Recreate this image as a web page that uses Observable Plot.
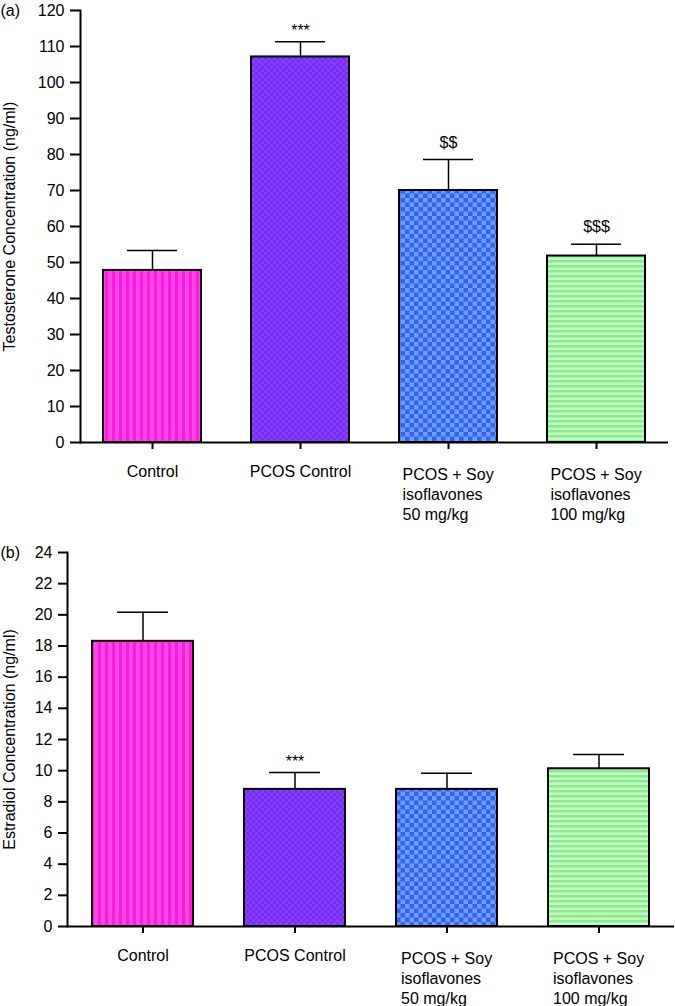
<!DOCTYPE html>
<html>
<head>
<meta charset="utf-8">
<script src="https://cdn.jsdelivr.net/npm/d3@7"></script>
<script src="https://cdn.jsdelivr.net/npm/@observablehq/plot@0.6"></script>
<style>
html, body { margin: 0; padding: 0; background: #fff; }
#chart { width: 675px; }
#chart svg { display: block; }
</style>
</head>
<body>
<div id="chart"></div>
<script>
// ---- data ----
const categories = [
  "Control",
  "PCOS Control",
  "PCOS + Soy\nisoflavones\n50 mg/kg",
  "PCOS + Soy\nisoflavones\n100 mg/kg"
];
const testosterone = [47.8, 107.1, 70.0, 51.8];
const testosteroneSem = [5.5, 4.2, 8.6, 3.3];
const testosteroneMarks = ["", "***", "$$", "$$$"];
const testosteroneTicks = [0, 10, 20, 30, 40, 50, 60, 70, 80, 90, 100, 110, 120];

const estradiol = [18.3, 8.8, 8.8, 10.12];
const estradiolSem = [1.87, 1.08, 1.03, 0.92];
const estradiolMarks = ["", "***", "", ""];
const estradiolTicks = [0, 2, 4, 6, 8, 10, 12, 14, 16, 18, 20, 22, 24];

const panelTags = ["(a)", "(b)"];
const yLabels = ["Testosterone Concentration (ng/ml)", "Estradiol Concentration (ng/ml)"];

// ---- patterns (styles) ----
function addPatterns(svg, prefix) {
  const defs = d3.select(svg).insert("defs", ":first-child");
  // Control: vertical magenta stripes
  let p = defs.append("pattern").attr("id", prefix + "0").attr("patternUnits", "userSpaceOnUse")
    .attr("width", 7).attr("height", 10);
  p.append("rect").attr("width", 7).attr("height", 10).attr("fill", "#ff45ea");
  p.append("rect").attr("width", 3).attr("height", 10).attr("fill", "#fb1bd9");
  // PCOS control: fine purple checker
  p = defs.append("pattern").attr("id", prefix + "1").attr("patternUnits", "userSpaceOnUse")
    .attr("width", 6).attr("height", 6);
  p.append("rect").attr("width", 6).attr("height", 6).attr("fill", "#7a2cf6");
  p.append("rect").attr("width", 3).attr("height", 3).attr("fill", "#8540fd");
  p.append("rect").attr("x", 3).attr("y", 3).attr("width", 3).attr("height", 3).attr("fill", "#8540fd");
  // Soy 50: blue checker
  p = defs.append("pattern").attr("id", prefix + "2").attr("patternUnits", "userSpaceOnUse")
    .attr("width", 9).attr("height", 9);
  p.append("rect").attr("width", 9).attr("height", 9).attr("fill", "#3b5bf1");
  p.append("rect").attr("width", 4.5).attr("height", 4.5).attr("fill", "#62a2f9");
  p.append("rect").attr("x", 4.5).attr("y", 4.5).attr("width", 4.5).attr("height", 4.5).attr("fill", "#62a2f9");
  // Soy 100: horizontal green stripes
  p = defs.append("pattern").attr("id", prefix + "3").attr("patternUnits", "userSpaceOnUse")
    .attr("width", 10).attr("height", 5);
  p.append("rect").attr("width", 10).attr("height", 5).attr("fill", "#c6fcc6");
  p.append("rect").attr("width", 10).attr("height", 2.5).attr("fill", "#86ee88");
}

function panel(o) {
  const rows = categories.map((c, i) => ({
    category: c, value: o.values[i], sem: o.sem[i], mark: o.marks[i]
  }));
  const top = d => d.value + d.sem;
  const svg = Plot.plot({
    width: 675,
    height: o.height,
    marginTop: o.mt,
    marginBottom: o.mb,
    marginLeft: o.ml,
    marginRight: o.mr,
    style: { fontFamily: "'Liberation Sans', Arial, sans-serif", fontSize: "16px", color: "#000", background: "#fff", overflow: "visible" },
    x: { domain: categories, paddingInner: o.pInner, paddingOuter: o.pOuter, label: null },
    y: { domain: [0, o.yTicks[o.yTicks.length - 1]], label: null },
    color: { domain: categories, range: categories.map((c, i) => `url(#${o.prefix}${i})`) },
    marks: [
      Plot.ruleX(rows, { x: "category", y1: "value", y2: top, stroke: "#000", strokeWidth: 1.5 }),
      Plot.tickY(rows, { x: "category", y: top, insetLeft: o.capInset, insetRight: o.capInset, stroke: "#000", strokeWidth: 1.5 }),
      Plot.barY(rows, { x: "category", y: "value", fill: "category", stroke: "#000", strokeWidth: 2 }),
      Plot.text(rows.filter(d => d.mark.startsWith("*")), {
        x: "category", y: top, text: "mark", dy: -11, lineAnchor: "middle", fontSize: 16, fill: "#000"
      }),
      Plot.text(rows.filter(d => d.mark.startsWith("$")), {
        x: "category", y: top, text: "mark", dy: -17, lineAnchor: "middle", fontSize: 16, fill: "#000"
      }),
      Plot.ruleY([0], { stroke: "#000", strokeWidth: 2 }),
      Plot.frame({ anchor: "left", stroke: "#000", strokeWidth: 2 }),
      Plot.axisY({
        ticks: o.yTicks, tickSize: o.yTickSize, tickPadding: 6, strokeWidth: 2,
        label: o.yLabel, labelAnchor: "center", labelArrow: "none", labelOffset: o.labelOffset,
        fontSize: 16
      }),
      Plot.axisX({ tickSize: 7, strokeWidth: 2, tickFormat: () => "", label: null }),
      Plot.text(rows.filter(d => !d.category.includes("\n")), {
        x: "category", text: "category", frameAnchor: "bottom", lineAnchor: "top", dy: 23,
        fontSize: 16, fill: "#000"
      }),
      Plot.text(rows.filter(d => d.category.includes("\n")), {
        x: "category", text: "category", frameAnchor: "bottom", lineAnchor: "top", dy: 23,
        textAnchor: "start", dx: -46, lineHeight: 1.25, fontSize: 16, fill: "#000"
      }),
      Plot.text([o.tag], {
        text: d => d, frameAnchor: "top-left", dx: -o.ml, textAnchor: "start", lineAnchor: "middle",
        fontSize: 16, fill: "#000"
      })
    ]
  });
  addPatterns(svg, o.prefix);
  return svg;
}

const chart = document.getElementById("chart");
chart.appendChild(panel({
  values: testosterone, sem: testosteroneSem, marks: testosteroneMarks, yTicks: testosteroneTicks,
  tag: panelTags[0], yLabel: yLabels[0], prefix: "pa",
  height: 535, mt: 10, mb: 93, ml: 80, mr: 7, pInner: 0.338, pOuter: 0.155,
  capInset: 24, yTickSize: 10, labelOffset: 77
}));
chart.appendChild(panel({
  values: estradiol, sem: estradiolSem, marks: estradiolMarks, yTicks: estradiolTicks,
  tag: panelTags[1], yLabel: yLabels[1], prefix: "pb",
  height: 471, mt: 17, mb: 80, ml: 67, mr: 1, pInner: 0.336, pOuter: 0.164,
  capInset: 25, yTickSize: 9, labelOffset: 64
}));
</script>
</body>
</html>
